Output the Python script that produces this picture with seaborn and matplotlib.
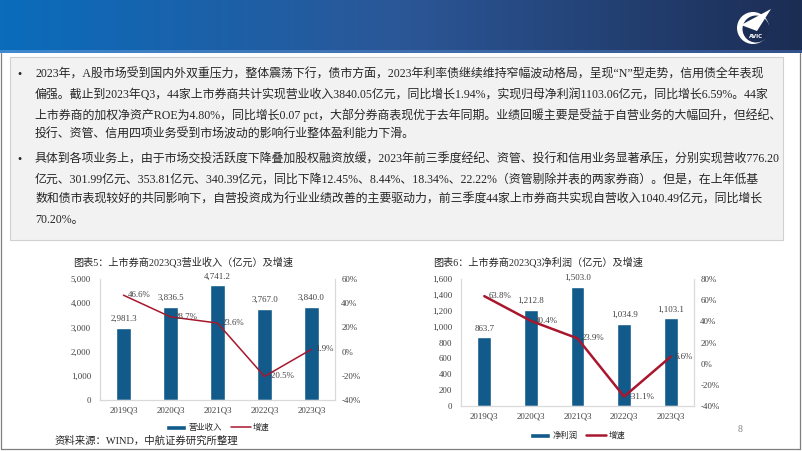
import numpy as np
import pandas as pd
import seaborn as sns
import matplotlib.pyplot as plt
from matplotlib.colors import LinearSegmentedColormap
from matplotlib.patches import Rectangle, Circle, Polygon
from matplotlib.lines import Line2D
from matplotlib.ticker import FuncFormatter, MultipleLocator

# data
quarters = ["2019Q3", "2020Q3", "2021Q3", "2022Q3", "2023Q3"]
revenue = [2981.3, 3836.5, 4741.2, 3767.0, 3840.0]
revenue_growth = [46.6, 28.7, 23.6, -20.5, 1.9]
profit = [863.7, 1212.8, 1503.0, 1034.9, 1103.1]
profit_growth = [63.8, 40.4, 23.9, -31.1, 6.6]

title5 = "图表5：上市券商2023Q3营业收入（亿元）及增速"
title6 = "图表6：上市券商2023Q3净利润（亿元）及增速"
source = "资料来源：WIND，中航证券研究所整理"

para1 = [
    "2023年，A股市场受到国内外双重压力，整体震荡下行，债市方面，2023年利率债继续维持窄幅波动格局，呈现“N”型走势，信用债全年表现",
    "偏强。截止到2023年Q3，44家上市券商共计实现营业收入3840.05亿元，同比增长1.94%，实现归母净利润1103.06亿元，同比增长6.59%。44家",
    "上市券商的加权净资产ROE为4.80%，同比增长0.07 pct，大部分券商表现优于去年同期。业绩回暖主要是受益于自营业务的大幅回升，但经纪、",
    "投行、资管、信用四项业务受到市场波动的影响行业整体盈利能力下滑。",
]
para2 = [
    "具体到各项业务上，由于市场交投活跃度下降叠加股权融资放缓，2023年前三季度经纪、资管、投行和信用业务显著承压，分别实现营收776.20",
    "亿元、301.99亿元、353.81亿元、340.39亿元，同比下降12.45%、8.44%、18.34%、22.22%（资管剔除并表的两家券商）。但是，在上年低基",
    "数和债市表现较好的共同影响下，自营投资成为行业业绩改善的主要驱动力，前三季度44家上市券商共实现自营收入1040.49亿元，同比增长",
    "70.20%。",
]

bar_color = "#115a8a"
line_color = "#a8172d"
label_color = "#404040"
W, H = 802, 451

sns.set_theme(style="white")
plt.rcParams["font.family"] = ["Liberation Serif", "Noto Sans CJK SC"]
plt.rcParams["axes.unicode_minus"] = False

fig = plt.figure(figsize=(W / 100, H / 100), dpi=100)

# background layer in pixel coordinates
bg = fig.add_axes([0, 0, 1, 1])
bg.set_axis_off()
hdr = LinearSegmentedColormap.from_list("hdr", ["#0a6cbc", "#2b5797", "#1c2d54"])
hdr2 = LinearSegmentedColormap.from_list("hdr2", ["#3f8ad0", "#4270b0", "#34528a"])
grad = np.linspace(0, 1, 400).reshape(1, -1)
bg.imshow(grad, cmap=hdr, extent=[0, W, 50, 0], aspect="auto")
bg.imshow(grad, cmap=hdr2, extent=[0, W, 53, 50], aspect="auto")
bg.set_xlim(0, W)
bg.set_ylim(H, 0)

# logo
bg.add_patch(Circle((753, 28), 16, fc="white", ec="none"))
bg.add_patch(Circle((756, 29), 13.5, fc="#1c2d54", ec="none"))
bg.add_patch(Polygon([[741, 25], [771, 9], [757, 31]], closed=True, fc="white", ec="none"))
bg.text(756, 36, "AVIC", fontsize=4, color="white", weight="bold", ha="center", va="center",
        family="DejaVu Sans")

# frame
for xs, ys in [([1, 1], [53, 449]), ([800, 800], [53, 449]), ([1, 800], [449, 449])]:
    bg.plot(xs, ys, color="#7f7f7f", lw=0.9)

# text box
bg.add_patch(Rectangle((10, 57), 773, 183, fc="#f2f2f2", ec="#d0d0d0", lw=0.8))
y = 75
for para in (para1, para2):
    bg.text(17, y, "•", fontsize=8.6, color="#262626", va="center", ha="left")
    for line in para:
        bg.text(35, y, line, fontsize=8.6, color="#262626", va="center", ha="left")
        y += 20
    y += 5


def px(l, t, r, b):
    return [l / W, 1 - b / H, (r - l) / W, (b - t) / H]


def draw_chart(rect, values, growth, ymax, ystep, gmin, gmax, name, lw, legend_xy):
    ax = fig.add_axes(px(*rect))
    ax.set_facecolor("none")
    df = pd.DataFrame({"季度": quarters, name: values})
    sns.barplot(data=df, x="季度", y=name, color=bar_color, width=0.3, saturation=1, ax=ax)
    ax.bar_label(ax.containers[0], labels=[f"{v:,.1f}" for v in values], padding=3.5,
                 fontsize=6.4, color=label_color)
    axr = ax.twinx()
    sns.lineplot(x=np.arange(len(quarters)), y=growth, ax=axr, color=line_color, lw=lw)
    for i, g in enumerate(growth):
        axr.annotate(f"{g:.1f}%", (i, g), xytext=(3, 0), textcoords="offset points",
                     va="center", ha="left", fontsize=6.4, color=label_color)
    ax.set_xlim(-0.5, len(quarters) - 0.5)
    ax.set_ylim(0, ymax)
    ax.yaxis.set_major_locator(MultipleLocator(ystep))
    ax.yaxis.set_major_formatter(FuncFormatter(lambda v, p: f"{v:,.0f}"))
    axr.set_ylim(gmin, gmax)
    axr.yaxis.set_major_locator(MultipleLocator(20))
    axr.yaxis.set_major_formatter(FuncFormatter(lambda v, p: f"{v:.0f}%"))
    ax.set_xlabel("")
    ax.set_ylabel("")
    axr.set_ylabel("")
    for a in (ax, axr):
        a.spines["top"].set_visible(False)
        for s in ("left", "right", "bottom"):
            a.spines[s].set_color("#d9d9d9")
            a.spines[s].set_linewidth(0.8)
    ax.tick_params(axis="y", length=0, pad=6.5, labelsize=6.4, labelcolor=label_color)
    axr.tick_params(axis="y", length=0, pad=4.5, labelsize=6.4, labelcolor=label_color)
    ax.tick_params(axis="x", length=0, pad=5, labelsize=6.4, labelcolor=label_color)
    handles = [Rectangle((0, 0), 1, 1, fc=bar_color), Line2D([], [], color=line_color, lw=lw)]
    fig.legend(handles, [name, "增速"], loc="center",
               bbox_to_anchor=(legend_xy[0] / W, 1 - legend_xy[1] / H), ncol=2, frameon=False,
               fontsize=6, handlelength=2.4, handleheight=0.6, columnspacing=1.0,
               handletextpad=0.3)
    return ax, axr


draw_chart((100, 279, 335, 400), revenue, revenue_growth, 5000, 1000, -40, 60,
           "营业收入", 1.1, (218, 428))
draw_chart((461, 279, 694, 406), profit, profit_growth, 1600, 200, -40, 80,
           "净利润", 1.8, (578, 436))

bg.text(72.7, 262, title5, fontsize=7.3, color="#262626", va="center", ha="left")
bg.text(432.7, 262, title6, fontsize=7.3, color="#262626", va="center", ha="left")
bg.text(55, 441, source, fontsize=7.5, color="#262626", va="center", ha="left")
bg.text(738, 430, "8", fontsize=7, color="#808080", va="center", ha="left")

fig.savefig("out.png", dpi=100)
